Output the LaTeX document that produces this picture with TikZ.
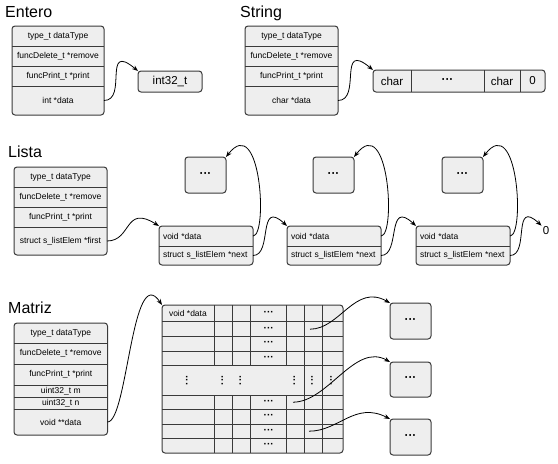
\documentclass[tikz,border=0pt]{standalone}
\usepackage{fontspec}
\setmainfont{Liberation Sans}
\usetikzlibrary{arrows.meta}
\definecolor{boxf}{HTML}{EEEEEE}
\definecolor{boxd}{HTML}{3A3A3A}
\tikzset{
  rec/.style={draw=boxd, fill=boxf, line width=1pt, rounded corners=3pt, inner sep=0pt, outer sep=0pt},
  cell/.style={inner sep=0pt, outer sep=0pt, font=\fontsize{8.5}{10}\selectfont},
  ttl/.style={anchor=base west, inner sep=0pt, font=\fontsize{16}{19}\selectfont},
  big/.style={inner sep=0pt, font=\fontsize{11.5}{13}\selectfont},
  div/.style={draw=boxd, line width=1pt},
  lnk/.style={line width=0.8pt, -{Stealth[length=6pt,width=4.5pt]}},
  dotsb/.style={inner sep=0pt, font=\fontsize{12}{14}\selectfont\bfseries},
  mdots/.style={inner sep=0pt, font=\fontsize{10}{12}\selectfont\bfseries},
  vd/.style={inner sep=0pt, rotate=90, font=\fontsize{10}{12}\selectfont\bfseries},
}
\newcommand\mybox[5]{\node[rec, anchor=north west, minimum width={#4-#2}, minimum height={#5-#3}] (#1) at (#2,#3) {};}
\newcommand\myrow[6]{\node[cell, minimum width={#4-#2}, minimum height={#5-#3}] (#1) at ({(#2+#4)/2},{(#3+#5)/2}) {#6};}
\newcommand\myrowL[6]{\node[cell, minimum width={#4-#2}, minimum height={#5-#3}, text width=86pt, inner xsep=4pt, align=left] (#1) at ({(#2+#4)/2},{(#3+#5)/2}) {#6};}
\newcommand\mydiv[1]{\draw[div] (#1.south west) -- (#1.south east);}
\begin{document}
\begin{tikzpicture}[x=1pt, y=-1pt]
\useasboundingbox (0,0) rectangle (558,464);

% ---------------- Entero ----------------
\node[ttl] (tEnt) at (5,17) {Entero};
\mybox{ent}{12}{26}{104}{115}
\myrow{e1}{12}{26}{104}{46}{type\_t dataType}
\myrow{e2}{12}{46}{104}{66}{funcDelete\_t *remove}
\myrow{e3}{12}{66}{104}{86}{funcPrint\_t *print}
\myrow{e4}{12}{86}{104}{115}{int *data}
\mydiv{e1}\mydiv{e2}\mydiv{e3}
\node[rec, big, minimum width=64, minimum height=21] (int) at (170,81.5) {int32\_t};

% ---------------- String ----------------
\node[ttl] (tStr) at (240,17) {String};
\mybox{str}{245}{26}{338}{115}
\myrow{s1}{245}{26}{338}{46}{type\_t dataType}
\myrow{s2}{245}{46}{338}{66}{funcDelete\_t *remove}
\myrow{s3}{245}{66}{338}{86}{funcPrint\_t *print}
\myrow{s4}{245}{86}{338}{115}{char *data}
\mydiv{s1}\mydiv{s2}\mydiv{s3}
\mybox{arr}{373}{70}{545}{92}
\node[big] (a1) at (392,81) {char};
\node[dotsb] (a2) at (447.5,81) {···};
\node[big] (a3) at (502,81) {char};
\node[big] (a4) at (532.5,81) {0};
\draw[div] (411,70) -- (411,92);
\draw[div] (484,70) -- (484,92);
\draw[div] (520,70) -- (520,92);

% ---------------- Lista ----------------
\node[ttl] (tLis) at (8,157) {Lista};
\mybox{lis}{14}{167}{107}{255}
\myrow{l1}{14}{167}{107}{187}{type\_t dataType}
\myrow{l2}{14}{187}{107}{207}{funcDelete\_t *remove}
\myrow{l3}{14}{207}{107}{227}{funcPrint\_t *print}
\myrow{l4}{14}{227}{107}{255}{struct s\_listElem *first}
\mydiv{l1}\mydiv{l2}\mydiv{l3}

\node[rec, dotsb, minimum width=41, minimum height=36] (L1) at (205.5,175) {···};
\node[rec, dotsb, minimum width=41, minimum height=36] (L2) at (333.5,175) {···};
\node[rec, dotsb, minimum width=41, minimum height=36] (L3) at (462.5,175) {···};

\mybox{E1}{159}{226}{253}{265}
\myrowL{ed1}{159}{226}{253}{246}{void *data}
\myrowL{en1}{159}{246}{253}{265}{struct s\_listElem *next}
\mydiv{ed1}
\mybox{E2}{287}{226}{381}{265}
\myrowL{ed2}{287}{226}{381}{246}{void *data}
\myrowL{en2}{287}{246}{381}{265}{struct s\_listElem *next}
\mydiv{ed2}
\mybox{E3}{416}{226}{510}{265}
\myrowL{ed3}{416}{226}{510}{246}{void *data}
\myrowL{en3}{416}{246}{510}{265}{struct s\_listElem *next}
\mydiv{ed3}
\node[big, inner sep=1pt] (zero) at (546,231) {0};

% ---------------- Matriz ----------------
\node[ttl] (tMat) at (8,313) {Matriz};
\mybox{mtz}{14}{323}{107.5}{435}
\myrow{m1}{14}{323}{107.5}{343}{type\_t dataType}
\myrow{m2}{14}{343}{107.5}{364}{funcDelete\_t *remove}
\myrow{m3}{14}{364}{107.5}{385}{funcPrint\_t *print}
\myrow{m4}{14}{385}{107.5}{397}{uint32\_t m}
\myrow{m5}{14}{397}{107.5}{409}{uint32\_t n}
\myrow{m6}{14}{409}{107.5}{435}{void **data}
\mydiv{m1}\mydiv{m2}\mydiv{m3}\mydiv{m4}\mydiv{m5}

\mybox{mat}{162}{305}{343}{453}
\foreach \y in {321.7,336.7,351,365.7,395,409.3,424,438.3}
  \draw[div] (162,\y) -- (343,\y);
\foreach \x in {214.3,232.7,250.7,286.7} {
  \draw[div] (\x,305) -- (\x,365.7);
  \draw[div] (\x,395) -- (\x,453);
}
\foreach \x in {304.3,322.3}
  \draw[div] (\x,305) -- (\x,453);
\node[cell, anchor=west] (vdata) at (169,313.3) {void *data};
\foreach \y [count=\i] in {313.3,329.2,343.8,358.3,402.2,416.7,431.2,445.7}
  \node[mdots] (md\i) at (268.7,\y) {···};
\foreach \x [count=\i] in {188,223.5,241.7,295.5,313.3,332.3}
  \node[vd] (vd\i) at (\x,380.3) {···};
\coordinate (c1) at (310,329.2);
\coordinate (c2) at (293,402.2);
\coordinate (c3) at (309,431.2);

\node[rec, dotsb, minimum width=41, minimum height=36] (D1) at (410.5,321) {···};
\node[rec, dotsb, minimum width=41, minimum height=35] (D2) at (410.5,379.5) {···};
\node[rec, dotsb, minimum width=41, minimum height=36] (D3) at (410.5,437) {···};

% ---------------- connectors ----------------
\draw[lnk] (e4.east) .. controls +(24,0) and +(-36,-30) .. (int.north west);
\draw[lnk] (s4.east) .. controls +(24,0) and +(-36,-30) .. (arr.north west);
\draw[lnk] (l4.east) .. controls +(25,0) and +(-35,-22) .. (E1.north west);
\draw[lnk] (ed1.east) .. controls +(15,0) and +(35,-45) .. (L1.north east);
\draw[lnk] (ed2.east) .. controls +(15,0) and +(35,-45) .. (L2.north east);
\draw[lnk] (ed3.east) .. controls +(15,0) and +(35,-45) .. (L3.north east);
\draw[lnk] (en1.east) .. controls +(20,0) and +(-30,-28) .. (E2.north west);
\draw[lnk] (en2.east) .. controls +(20,0) and +(-30,-28) .. (E3.north west);
\draw[lnk] (en3.east) .. controls +(20,0) and +(-30,-28) .. (zero.north west);
\draw[lnk] (m6.east) .. controls +(20,0) and +(-30,-45) .. (mat.north west);
\draw[lnk] (c1) .. controls +(30,0) and +(-35,-20) .. (D1.north west);
\draw[lnk] (c2) .. controls +(35,0) and +(-35,-20) .. (D2.north west);
\draw[lnk] (c3) .. controls +(30,0) and +(-35,-18) .. (D3.north west);
\end{tikzpicture}
\end{document}
